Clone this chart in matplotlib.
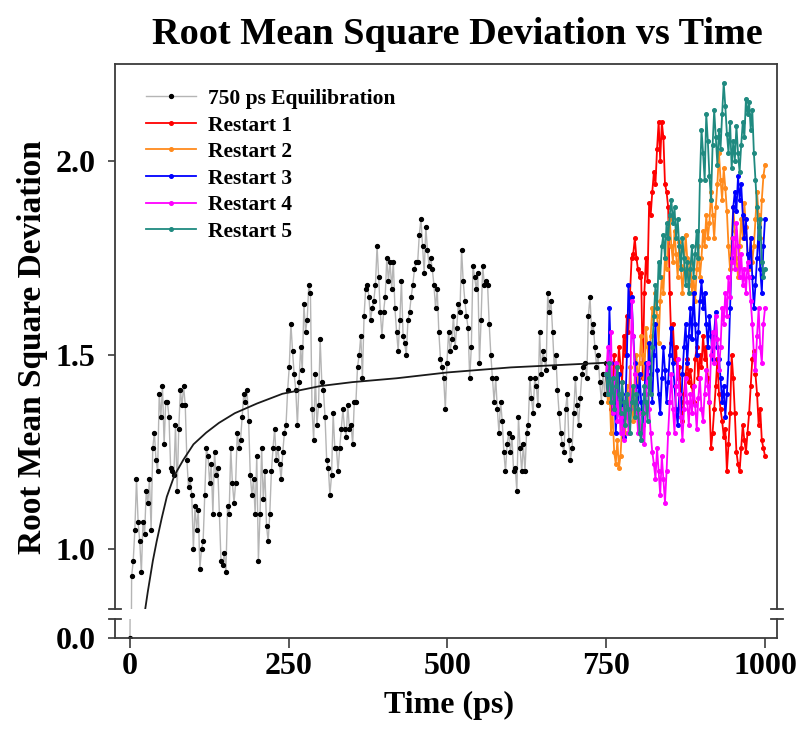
import numpy as np
import matplotlib
matplotlib.use('Agg')
from matplotlib import pyplot as plt

plt.rcParams['font.family'] = ['Liberation Serif', 'DejaVu Serif']
plt.rcParams['font.weight'] = 'bold'

# RMSD of the 750 ps equilibration run (first frame is the reference -> 0.0)
equil = [0.0,
         0.93, 0.97, 1.05, 1.18, 1.07, 1.02, 0.94, 1.07, 1.04, 1.15,
         1.12, 1.18, 1.05, 1.26, 1.30, 1.23, 1.20, 1.40, 1.34, 1.42,
         1.27, 1.38, 1.38, 1.34, 1.21, 1.20, 1.19, 1.32, 1.15, 1.31,
         1.41, 1.37, 1.42, 1.37, 1.23, 1.16, 1.18, 1.14, 1.00, 1.11,
         1.05, 1.10, 0.95, 1.00, 1.02, 1.14, 1.26, 1.24, 1.17, 1.22,
         1.09, 1.25, 1.19, 1.21, 1.09, 0.97, 0.96, 0.99, 0.94, 1.11,
         1.09, 1.26, 1.17, 1.12, 1.17, 1.30, 1.26, 1.28, 1.34, 1.40,
         1.38, 1.41, 1.33, 1.19, 1.14, 1.18, 1.09, 1.24, 0.97, 1.09,
         1.26, 1.13, 1.20, 1.06, 1.02, 1.09, 1.20, 1.26, 1.31, 1.23,
         1.26, 1.22, 1.18, 1.25, 1.30, 1.32, 1.41, 1.47, 1.58, 1.51,
         1.45, 1.41, 1.32, 1.43, 1.52, 1.46, 1.63, 1.56, 1.59, 1.68,
         1.66, 1.36, 1.28, 1.45, 1.32, 1.37, 1.54, 1.43, 1.41, 1.34,
         1.23, 1.21, 1.14, 1.19, 1.35, 1.26, 1.26, 1.20, 1.26, 1.31,
         1.36, 1.31, 1.29, 1.37, 1.31, 1.32, 1.27, 1.38,
         1.38, 1.47, 1.50, 1.55, 1.44, 1.60, 1.67, 1.68, 1.65, 1.59,
         1.62, 1.64, 1.68, 1.78, 1.70, 1.61, 1.55, 1.61, 1.65, 1.75,
         1.69, 1.74, 1.67, 1.74, 1.62, 1.56, 1.51, 1.59, 1.69, 1.55,
         1.53, 1.50, 1.59, 1.61, 1.65, 1.68, 1.72, 1.74, 1.74, 1.81,
         1.85, 1.78, 1.71, 1.83, 1.77, 1.73, 1.75, 1.72, 1.68, 1.62,
         1.67, 1.56, 1.49, 1.47, 1.44, 1.36, 1.48, 1.56, 1.51, 1.54,
         1.60, 1.52, 1.57, 1.63, 1.61, 1.77, 1.69, 1.64, 1.60, 1.57,
         1.44, 1.52, 1.73, 1.70, 1.67, 1.71, 1.48, 1.59, 1.73, 1.68,
         1.69, 1.68, 1.58, 1.50, 1.44, 1.38, 1.44, 1.36, 1.30, 1.38,
         1.33, 1.25, 1.20, 1.27, 1.30, 1.25, 1.29, 1.20, 1.21, 1.15,
         1.34, 1.26, 1.20, 1.27, 1.20, 1.30, 1.32, 1.44, 1.39, 1.35,
         1.44, 1.42, 1.37, 1.56, 1.45, 1.51, 1.49, 1.46, 1.66, 1.61,
         1.64, 1.56, 1.47, 1.50, 1.41, 1.35, 1.30, 1.27, 1.25, 1.36,
         1.40, 1.28, 1.23, 1.26, 1.35, 1.44, 1.37, 1.32, 1.39, 1.45,
         1.47, 1.48, 1.44, 1.60, 1.65, 1.56,
         1.58, 1.52, 1.47, 1.50, 1.43, 1.38, 1.45, 1.40, 1.48]

restart1 = [1.45, 1.40, 1.46, 1.36, 1.42, 1.50, 1.38, 1.44, 1.52, 1.47, 1.43, 1.55, 1.50, 1.60, 1.56,
            1.66, 1.75, 1.76, 1.80, 1.75, 1.72, 1.70, 1.71, 1.44, 1.66, 1.75, 1.69, 1.89, 1.86, 1.92,
            1.97, 1.94, 2.03, 2.10, 2.00, 2.10, 2.06, 1.94, 1.92, 1.88, 1.66,
            1.53, 1.58, 1.49, 1.52, 1.44, 1.47, 1.38, 1.33, 1.40, 1.45, 1.49, 1.43, 1.46, 1.42, 1.38,
            1.49, 1.52, 1.44, 1.50, 1.47,
            1.55, 1.49, 1.52, 1.44, 1.38, 1.26, 1.30, 1.36, 1.42, 1.49, 1.40, 1.36, 1.33, 1.29, 1.31,
            1.20, 1.27, 1.35, 1.50, 1.44, 1.35, 1.25, 1.22, 1.20, 1.26, 1.32, 1.28, 1.25, 1.30, 1.35,
            1.42, 1.49, 1.51, 1.45, 1.40, 1.32, 1.36, 1.28, 1.26, 1.24]

restart2 = [1.45, 1.38, 1.42, 1.30, 1.35, 1.25, 1.22, 1.28, 1.21, 1.24, 1.32, 1.38, 1.30, 1.42, 1.36,
            1.47, 1.40, 1.33, 1.45, 1.50,
            1.42, 1.48, 1.55, 1.50, 1.44, 1.57, 1.52, 1.47, 1.55, 1.62, 1.58, 1.66, 1.60, 1.53, 1.64,
            1.70, 1.66, 1.75, 1.72, 1.80,
            1.85, 1.78, 1.74, 1.82, 1.76, 1.70, 1.79, 1.73, 1.66, 1.72, 1.81, 1.75, 1.68, 1.74, 1.66,
            1.70, 1.64, 1.72, 1.78, 1.70,
            1.75, 1.82, 1.78, 1.86, 1.80, 1.84, 1.92, 1.86, 1.80, 1.88, 1.94, 2.02, 1.95, 1.90, 1.98,
            1.93, 1.87, 1.78, 1.72, 1.80,
            1.88, 1.82, 1.75, 1.70, 1.78, 1.85, 1.80, 1.89, 1.83, 1.76, 1.72, 1.80, 1.74, 1.78, 1.85,
            1.92, 1.86, 1.80, 1.90, 1.96, 1.99]

restart3 = [1.45, 1.40, 1.62, 1.48, 1.35, 1.42, 1.30, 1.38, 1.45, 1.33, 1.40, 1.29, 1.36, 1.50, 1.68,
            1.60, 1.65, 1.55, 1.48, 1.42,
            1.35, 1.45, 1.38, 1.32, 1.40, 1.48, 1.42, 1.53, 1.45, 1.38, 1.50, 1.58, 1.46, 1.40, 1.35,
            1.44, 1.52, 1.46, 1.38, 1.43,
            1.50, 1.57, 1.48, 1.42, 1.36, 1.32, 1.40, 1.34, 1.45, 1.52, 1.58, 1.48, 1.55, 1.62, 1.54,
            1.66, 1.58, 1.50, 1.56, 1.64,
            1.69, 1.62, 1.66, 1.58, 1.52, 1.60, 1.55, 1.49, 1.56, 1.61, 1.52, 1.49, 1.44, 1.38, 1.42,
            1.34, 1.40, 1.48, 1.62, 1.75,
            1.88, 1.92, 1.87, 1.96, 1.90, 1.94, 1.86, 1.80, 1.85, 1.76, 1.73, 1.80, 1.70, 1.62, 1.68,
            1.75, 1.83, 1.72, 1.66, 1.78, 1.85]

restart4 = [1.45, 1.52, 1.40, 1.56, 1.35, 1.42, 1.48, 1.33, 1.38, 1.30, 1.36, 1.28, 1.34, 1.40, 1.30,
            1.36, 1.64, 1.55, 1.45, 1.38,
            1.30, 1.35, 1.28, 1.32, 1.27, 1.40, 1.48, 1.36, 1.30, 1.25, 1.22, 1.18, 1.26, 1.20, 1.14,
            1.24, 1.18, 1.12, 1.20, 1.30,
            1.38, 1.45, 1.36, 1.30, 1.42, 1.49, 1.40, 1.34, 1.28, 1.36, 1.44, 1.38, 1.32, 1.40, 1.35,
            1.42, 1.37, 1.31, 1.39, 1.44,
            1.36, 1.33, 1.40, 1.46, 1.42, 1.38, 1.50, 1.56, 1.48, 1.60, 1.54, 1.46, 1.52, 1.62, 1.58,
            1.66, 1.60, 1.70, 1.65, 1.74,
            1.80, 1.72, 1.84, 1.78, 1.70, 1.76, 1.68, 1.72, 1.66, 1.74, 1.70, 1.64, 1.58, 1.50, 1.46,
            1.55, 1.62, 1.52, 1.48, 1.58, 1.62]

restart5 = [1.45, 1.40, 1.48, 1.38, 1.44, 1.36, 1.42, 1.47, 1.40, 1.35, 1.43, 1.38, 1.32, 1.40, 1.36,
            1.30, 1.38, 1.42, 1.34, 1.40,
            1.36, 1.30, 1.28, 1.35, 1.42, 1.38, 1.33, 1.44, 1.40, 1.52, 1.60, 1.68, 1.62, 1.74, 1.70,
            1.78, 1.81, 1.75, 1.84, 1.80,
            1.86, 1.90, 1.84, 1.88, 1.80, 1.85, 1.78, 1.72, 1.80, 1.75, 1.68, 1.74, 1.66, 1.72, 1.78,
            1.70, 1.76, 1.82, 1.75, 1.95,
            2.08, 2.02, 1.95, 2.12, 2.05, 1.96, 1.90, 2.04, 2.13, 2.06, 1.99, 2.08, 2.03, 2.12, 2.20,
            2.14, 2.07, 2.02, 2.10, 1.98,
            2.05, 2.00, 2.09, 2.02, 1.97, 2.04, 2.10, 2.06, 2.16, 2.12, 2.15, 2.08, 2.13, 2.02, 1.95,
            1.88, 1.80, 1.85, 1.74, 1.70, 1.72]

# fitted curve through the equilibration run
fit_t = [24, 28, 32, 36, 42, 50, 58, 70, 84, 100, 120, 140, 165, 200, 240, 300, 350, 420, 500, 600, 700, 750]
fit_v = [0.846, 0.89, 0.93, 0.97, 1.02, 1.08, 1.135, 1.19, 1.23, 1.27, 1.30, 1.325, 1.35, 1.375, 1.40,
         1.42, 1.43, 1.44, 1.455, 1.468, 1.476, 1.48]

restarts = [restart1, restart2, restart3, restart4, restart5]
names = ['Restart 1', 'Restart 2', 'Restart 3', 'Restart 4', 'Restart 5']
colors = ['#ff0000', '#ff8a1c', '#0000ff', '#ff00ff', '#1f8a80']
x_ticks = [0, 250, 500, 750, 1000]
y_ticks = [1.0, 1.5, 2.0]

t_equil = np.linspace(0, 750, len(equil))

W, H = 800, 749
fig = plt.figure(figsize=(W / 100, H / 100), dpi=100)
ax = fig.add_axes([115 / W, 1 - 609 / H, 662 / W, 545 / H])
axb = fig.add_axes([115 / W, 1 - 638 / H, 662 / W, 19 / H], sharex=ax)

spine_c = '#3c3c3c'
for a in (ax, axb):
    a.plot(t_equil, equil, '-', color='#b5b5b5', lw=1.0, marker='o', ms=2.8,
           mfc='black', mec='black', label='750 ps Equilibration')
    for vals, nm, c in zip(restarts, names, colors):
        a.plot(np.linspace(750, 1000, len(vals)), vals, '-', color=c, lw=1.3,
               marker='o', ms=2.6, label=nm)
    for s in a.spines.values():
        s.set_color(spine_c)
        s.set_linewidth(1.3)

ax.plot(fit_t, fit_v, '-', color='#1a1a1a', lw=1.3)

ax.set_xlim(-23.6, 1018.9)
ax.set_ylim(0.846, 2.249)
axb.set_ylim(0, 0.049)

ax.spines['bottom'].set_visible(False)
axb.spines['top'].set_visible(False)
ax.tick_params(axis='x', bottom=False, labelbottom=False)
ax.set_yticks(y_ticks)
ax.set_yticklabels(['%.1f' % v for v in y_ticks])
axb.set_yticks([0.0])
axb.set_yticklabels(['0.0'])
axb.set_xticks(x_ticks)
axb.set_xticklabels([str(v) for v in x_ticks])
for a in (ax, axb):
    a.tick_params(axis='y', direction='out', length=5, width=1.2, color=spine_c,
                  labelsize=23, pad=9, right=False)
axb.tick_params(axis='x', direction='out', length=7, width=1.2, color=spine_c,
                labelsize=23, pad=3, top=False)

# break marks on both spines
d = 0.0098
for a, yy in ((ax, 0), (axb, 1)):
    for x0 in (0, 1):
        a.plot([x0 - d, x0 + d], [yy, yy], color=spine_c, lw=1.3,
               transform=a.transAxes, clip_on=False)

leg = ax.legend(loc='upper left', bbox_to_anchor=(0.028, 0.978), frameon=False,
                fontsize=15.5, numpoints=1, handlelength=2.3, handletextpad=0.55,
                labelspacing=0.3, borderaxespad=0.2)

fig.text(457 / W, 1 - 35 / H, 'Root Mean Square Deviation vs Time', ha='center', va='center',
         fontsize=27.5, fontweight='bold')
fig.text(449 / W, 1 - 705 / H, 'Time (ps)', ha='center', va='center', fontsize=23,
         fontweight='bold')
fig.text(33 / W, 1 - 347 / H, 'Root Mean Square Deviation', ha='center', va='center',
         rotation=90, fontsize=24, fontweight='bold')

fig.savefig('out.png', dpi=100)
